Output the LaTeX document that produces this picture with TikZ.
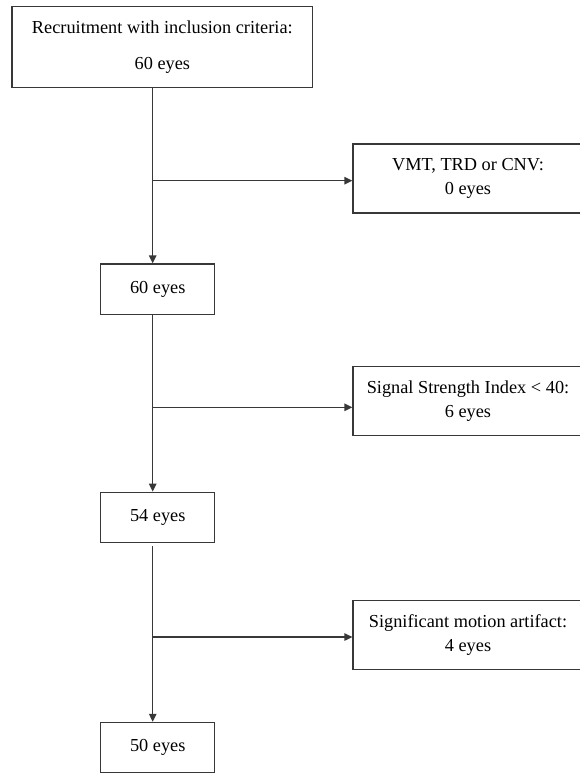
\documentclass[tikz,border=0pt]{standalone}
\usepackage{fontspec}
\setmainfont{Liberation Serif}
\usetikzlibrary{arrows.meta}
\begin{document}
\begin{tikzpicture}[x=1pt,y=-1pt,
  boxstyle/.style={draw=black!78,line width=1.3pt,rectangle,inner sep=0pt,align=center,
    font=\fontsize{18.3}{24}\selectfont,text=black},
  conn/.style={draw=black!78,line width=1.3pt},
  arr/.style={conn,-{Triangle[length=8pt,width=7.5pt]}}]
\useasboundingbox[fill=white] (0,0) rectangle (579,773);
% main column
\node[boxstyle,minimum width=300.7pt,minimum height=80.6pt] (b1) at (162.35,47) {Recruitment with inclusion criteria:\\[12.7pt]60 eyes};
\node[boxstyle,minimum width=114pt,minimum height=50.3pt] (b2) at (157.7,289.15) {60 eyes};
\node[boxstyle,minimum width=114pt,minimum height=50.4pt] (b3) at (157.7,517.5) {54 eyes};
\node[boxstyle,minimum width=114pt,minimum height=50.4pt] (b4) at (157.7,747.6) {50 eyes};
% exclusion boxes
\node[boxstyle,minimum width=230pt,minimum height=69pt] (r1) at (468,178.5) {VMT, TRD or CNV:\\0 eyes};
\node[boxstyle,minimum width=230pt,minimum height=69pt] (r2) at (468,401.2) {Signal Strength Index < 40:\\6 eyes};
\node[boxstyle,minimum width=230pt,minimum height=69pt] (r3) at (468,634.8) {Significant motion artifact:\\4 eyes};
% junctions
\coordinate (j1) at (152.7,180.7);
\coordinate (j2) at (152.7,407.3);
\coordinate (j3) at (152.7,637);
% connectors
\draw[arr] (j1 |- b1.south) -- (j1 |- b2.north);
\draw[arr] (j1) -- (j1 -| r1.west);
\draw[arr] (j2 |- b2.south) -- (j2 |- b3.north);
\draw[arr] (j2) -- (j2 -| r2.west);
\draw[arr,shorten <=3pt] (j3 |- b3.south) -- (j3 |- b4.north);
\draw[arr] (j3) -- (j3 -| r3.west);
\end{tikzpicture}
\end{document}
